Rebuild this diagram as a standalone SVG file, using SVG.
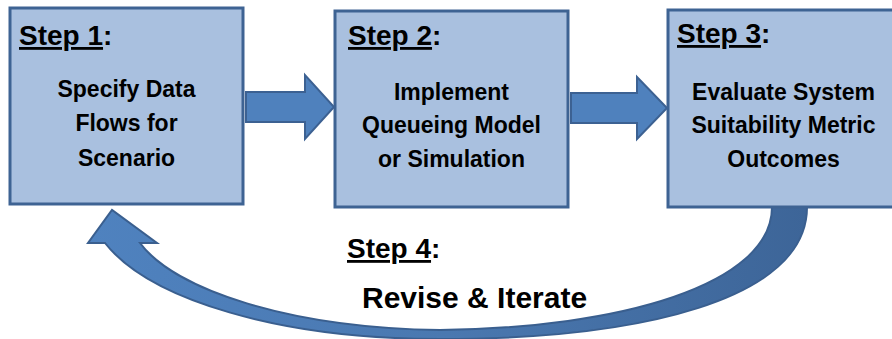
<svg xmlns="http://www.w3.org/2000/svg" width="892" height="339" viewBox="0 0 892 339">
<style>
.box{fill:#A9C0DF;stroke:#3E6393;stroke-width:3}
.arr{fill:#4F81BD;stroke:#3C6192;stroke-width:2;stroke-linejoin:miter}
.t{font-family:"Liberation Sans",Arial,sans-serif;font-weight:bold;fill:#000}
.step{font-size:28px}
.body{font-size:23px;text-anchor:middle}
.u{text-decoration:underline}
</style>
<defs>
<linearGradient id="cg" x1="88" y1="0" x2="807" y2="0" gradientUnits="userSpaceOnUse">
<stop offset="0" stop-color="#4F82BF"/>
<stop offset="0.5" stop-color="#4A78B0"/>
<stop offset="1" stop-color="#3D6598"/>
</linearGradient>
</defs>
<rect width="892" height="339" fill="#fff"/>
<g id="connectors">
<path class="arr" d="M246,92 H305 V75 L334,107 L305,139 V122 H246 Z"/>
<path class="arr" d="M571,93 H637 V77 L667,108 L637,139 V123 H571 Z"/>
<path d="M807,207 C807,300 640,339 440,339 C280,339 150,300 105,243 L88,243 L112,210 L157,243 L140,243 C175,290 290,328 440,330 C620,328 772,285 772,207 Z" fill="url(#cg)" stroke="#3A5F8F" stroke-width="2" stroke-linejoin="miter"/>
</g>
<g id="step1">
<rect class="box" x="10" y="8" width="233" height="196"/>
<text class="t step" x="19" y="45"><tspan class="u">Step 1</tspan>:</text>
<text class="t body" x="126.5" y="97">Specify Data</text>
<text class="t body" x="126.5" y="131">Flows for</text>
<text class="t body" x="126.5" y="166">Scenario</text>
</g>
<g id="step2">
<rect class="box" x="335" y="11" width="233" height="196"/>
<text class="t step" x="348" y="45"><tspan class="u">Step 2</tspan>:</text>
<text class="t body" x="451.5" y="100">Implement</text>
<text class="t body" x="451.5" y="133">Queueing Model</text>
<text class="t body" x="451.5" y="167">or Simulation</text>
</g>
<g id="step3">
<rect class="box" x="668" y="10" width="232" height="197"/>
<text class="t step" x="677" y="43"><tspan class="u">Step 3</tspan>:</text>
<text class="t body" x="783.5" y="100">Evaluate System</text>
<text class="t body" x="783.5" y="133">Suitability Metric</text>
<text class="t body" x="783.5" y="167">Outcomes</text>
</g>
<g id="step4">
<text class="t step" x="347" y="258"><tspan class="u">Step 4</tspan>:</text>
<text class="t" x="362" y="308" font-size="30">Revise &amp; Iterate</text>
</g>
</svg>
